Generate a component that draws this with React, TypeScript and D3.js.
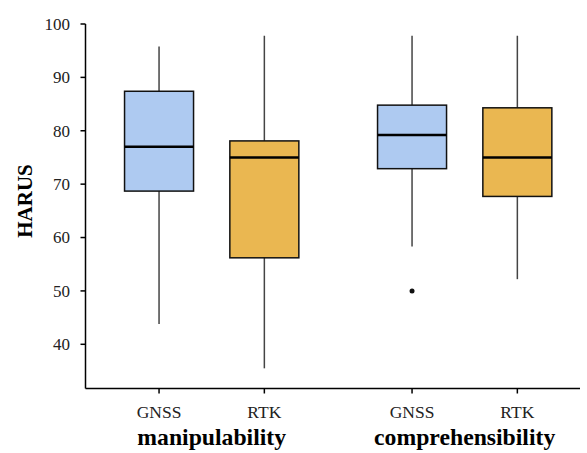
import React from "react";
import * as d3 from "d3";

const groups = ["manipulability", "comprehensibility"];
const devices = ["GNSS", "RTK"];
// per box: [whiskerLow, q1, median, q3, whiskerHigh]
const manipulabilityGNSS = [43.8, 68.7, 77.0, 87.4, 95.8];
const manipulabilityRTK = [35.5, 56.2, 75.0, 78.1, 97.8];
const comprehensibilityGNSS = [58.3, 72.9, 79.2, 84.8, 97.8];
const comprehensibilityRTK = [52.2, 67.7, 75.0, 84.3, 97.8];
const outliers = [{ group: "comprehensibility", device: "GNSS", value: 50 }];
const yTicks = [40, 50, 60, 70, 80, 90, 100];

const boxes = [
  { group: "manipulability", device: "GNSS", stats: manipulabilityGNSS },
  { group: "manipulability", device: "RTK", stats: manipulabilityRTK },
  { group: "comprehensibility", device: "GNSS", stats: comprehensibilityGNSS },
  { group: "comprehensibility", device: "RTK", stats: comprehensibilityRTK },
];

const colors: Record<string, string> = { GNSS: "#aecaf1", RTK: "#eab751" };

export default function App() {
  const W = 587, H = 453;
  const left = 85.5, bottom = 388.5, top = 24, right = 580;
  const y = d3.scaleLinear().domain([40, 100]).range([344.3, 24]);
  const yMin = y.invert(bottom);
  const y2 = d3.scaleLinear().domain([yMin, 100]).range([bottom, top]);
  const groupX = d3.scalePoint<string>().domain(groups).range([211.7, 464.7]);
  const devX = d3.scalePoint<string>().domain(devices).range([-52.65, 52.65]);
  const boxW = 69;
  const cx = (g: string, d: string) => (groupX(g) as number) + (devX(d) as number);
  const font = "'Liberation Serif', 'Times New Roman', serif";

  return (
    <svg width={W} height={H} style={{ position: "absolute", left: 0, top: 0 }}>
      <rect width={W} height={H} fill="#fff" />
      {/* y axis */}
      <line x1={left} x2={left} y1={y2(100)} y2={bottom} stroke="#000" strokeWidth={1.5} />
      {yTicks.map((t) => (
        <g key={t}>
          <line x1={left - 5} x2={left} y1={y2(t)} y2={y2(t)} stroke="#000" strokeWidth={1.5} />
          <text x={70} y={y2(t)} dy="0.35em" textAnchor="end" fontFamily={font} fontSize={17} fill="#222">{t}</text>
        </g>
      ))}
      <text transform={`translate(32,201) rotate(-90)`} textAnchor="middle" fontFamily={font} fontSize={21} fontWeight="bold">HARUS</text>
      {/* x axis */}
      <line x1={left} x2={right} y1={bottom} y2={bottom} stroke="#000" strokeWidth={1.5} />
      {boxes.map((b) => {
        const x = cx(b.group, b.device);
        return (
          <g key={b.group + b.device}>
            <line x1={x} x2={x} y1={bottom} y2={bottom + 5} stroke="#000" strokeWidth={1.5} />
            <text x={x} y={418} textAnchor="middle" fontFamily={font} fontSize={17.5} fill="#222">{b.device}</text>
          </g>
        );
      })}
      {groups.map((g) => (
        <text key={g} x={groupX(g) as number} y={445} textAnchor="middle" fontFamily={font} fontSize={23.7} fontWeight="bold">{g}</text>
      ))}
      {boxes.map((b) => {
        const x = cx(b.group, b.device);
        const [lo, q1, med, q3, hi] = b.stats;
        return (
          <g key={"b" + b.group + b.device}>
            <line x1={x} x2={x} y1={y2(hi)} y2={y2(q3)} stroke="#444" strokeWidth={1.5} />
            <line x1={x} x2={x} y1={y2(q1)} y2={y2(lo)} stroke="#444" strokeWidth={1.5} />
            <rect x={x - boxW / 2} y={y2(q3)} width={boxW} height={y2(q1) - y2(q3)} fill={colors[b.device]} stroke="#111" strokeWidth={1.5} />
            <line x1={x - boxW / 2} x2={x + boxW / 2} y1={y2(med)} y2={y2(med)} stroke="#000" strokeWidth={2.5} />
          </g>
        );
      })}
      {outliers.map((o, i) => (
        <circle key={i} cx={cx(o.group, o.device)} cy={y2(o.value)} r={2.5} fill="#111" />
      ))}
    </svg>
  );
}
